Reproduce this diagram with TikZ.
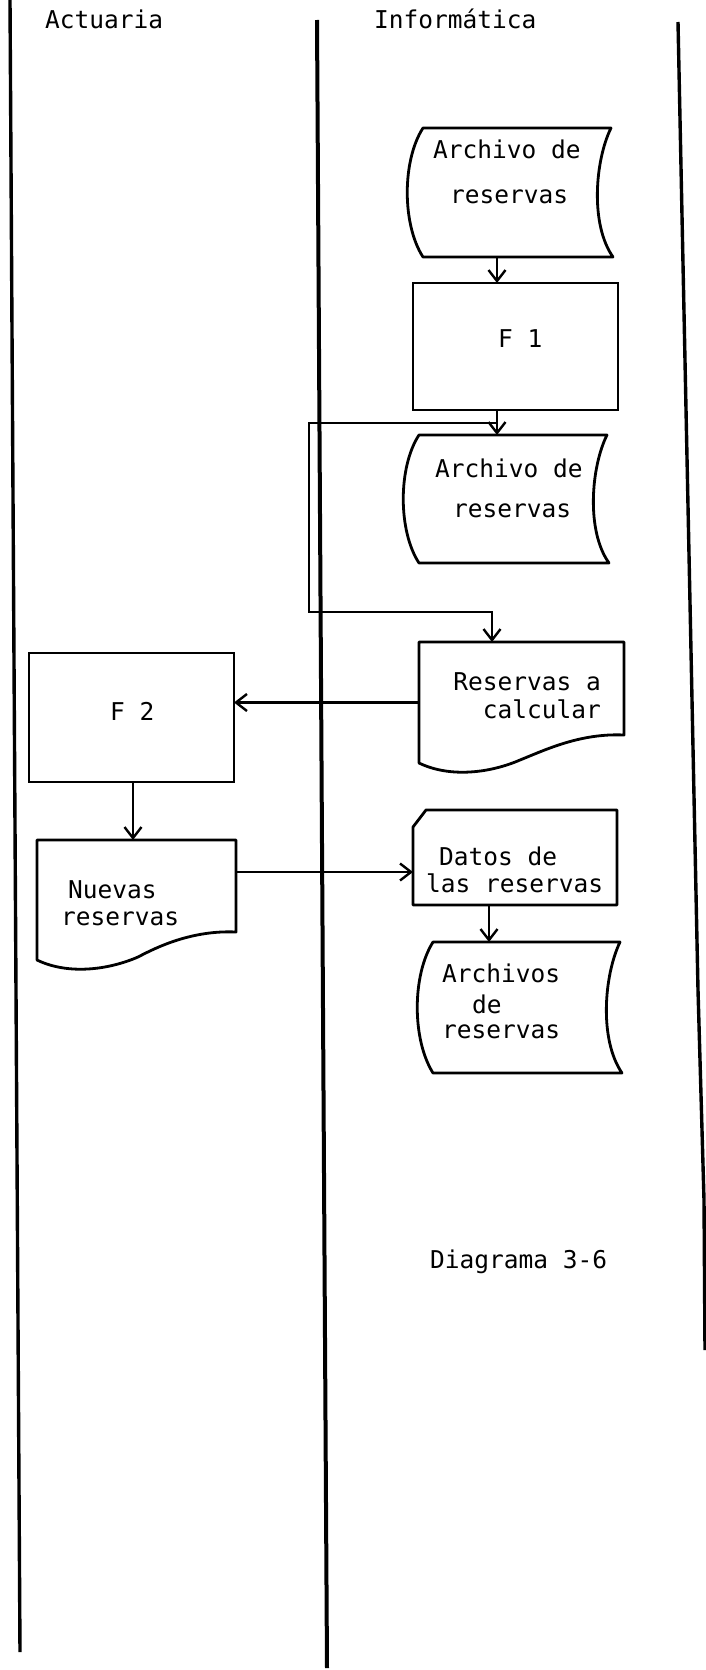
\documentclass[tikz,border=0pt]{standalone}
\usepackage{fontspec}
\newfontfamily\typewr{DejaVu Sans Mono}
\usetikzlibrary{arrows.meta,calc}

% stored-data symbol: convex left side, concave right side
\newcommand\storedoutline[1]{%
  \draw[outline] ($(#1.north west)+(16,0)$) -- ($(#1.north east)+(-2,0)$)
    .. controls ($(#1.east)+(-18,-32)$) and ($(#1.east)+(-23,32)$) .. (#1.south east)
    -- ($(#1.south west)+(16,0)$)
    .. controls ($(#1.west)+(-5,32)$) and ($(#1.west)+(-5,-32)$) .. ($(#1.north west)+(16,0)$) -- cycle;}

% document symbol: wavy lower edge
\newcommand\docoutline[1]{%
  \draw[outline] (#1.south west) -- (#1.north west) -- (#1.north east) -- ($(#1.south east)+(0,-28)$)
    .. controls ($(#1.south east)+(-44,-30)$) and ($(#1.south east)+(-79,-13)$) .. ($(#1.south west)+(101,-3)$)
    .. controls ($(#1.south west)+(71,10)$) and ($(#1.south west)+(31,15)$) .. (#1.south west) -- cycle;}

\begin{document}
\begin{tikzpicture}[x=1pt,y=-1pt,
  lane/.style={line width=3.4pt, line join=round},
  outline/.style={line width=2.8pt, line join=round},
  frame/.style={rectangle, inner sep=0pt, outer sep=0pt},
  procbox/.style={frame, draw, line width=2.8pt},
  flow/.style={line width=2.4pt, -{Straight Barb[length=11pt,width=17pt,line width=2.4pt]}},
  txt/.style={font=\typewr\fontsize{24.5}{30}\selectfont, inner sep=0pt, anchor=base west},
]
\useasboundingbox (0,0) rectangle (706,1670);

% swimlane borders
\draw[lane] (10,0) -- (20,1652);
\draw[lane, line width=4pt] (317,20) -- (327,1668);
\draw[lane] (678,22) -- (698,990) -- (704,1200) -- (705,1350);

% lane headings
\node[txt] (hA) at (45,29) {Actuaria};
\node[txt] (hI) at (374,29) {Informática};

% symbols
\node[frame, minimum width=206pt, minimum height=129pt] (a1) at (510,192.5) {};
\node[procbox, minimum width=205pt, minimum height=127pt] (f1) at (515.5,346.5) {};
\node[frame, minimum width=206pt, minimum height=128pt] (a2) at (506,499) {};
\node[frame, minimum width=205pt, minimum height=121pt] (res) at (521.5,702.5) {};
\node[procbox, minimum width=205pt, minimum height=129pt] (f2) at (131.5,717.5) {};
\node[frame, minimum width=199pt, minimum height=120pt] (nue) at (136.5,900) {};
\node[frame, minimum width=204pt, minimum height=95pt] (dat) at (515,857.5) {};
\node[frame, minimum width=205pt, minimum height=131pt] (arc) at (519.5,1007.5) {};

\storedoutline{a1}
\storedoutline{a2}
\storedoutline{arc}
\docoutline{res}
\docoutline{nue}
\draw[outline] ($(dat.north west)+(0,17)$) -- ($(dat.north west)+(13,0)$) -- (dat.north east)
  -- (dat.south east) -- (dat.south west) -- cycle;

% connectors
\coordinate (xA) at (497,0);
\coordinate (xB) at (492,0);
\coordinate (xC) at (133,0);
\coordinate (xE) at (489,0);
\coordinate (yD) at (0,872);
\coordinate (split) at (497,423);
\coordinate (loopT) at (309,423);
\coordinate (loopB) at (309,612);

\draw[flow] (a1.south -| xA) -- (f1.north -| xA);
\draw[flow] (f1.south -| xA) -- (a2.north -| xA);
\draw[flow] (split) -- (loopT) -- (loopB) -| (res.north -| xB);
\draw[flow] (res.west) -- (res.west -| f2.east);
\draw[flow] (f2.south -| xC) -- (nue.north -| xC);
\draw[flow] (nue.east |- yD) -- (dat.west |- yD);
\draw[flow] (dat.south -| xE) -- (arc.north -| xE);

% labels
\node[txt] (a1l1) at (433,158) {Archivo de};
\node[txt] (a1l2) at (450,203) {reservas};
\node[txt] (f1l) at (498,347) {F 1};
\node[txt] (a2l1) at (435,477) {Archivo de};
\node[txt] (a2l2) at (453,517) {reservas};
\node[txt, anchor=base east] (rl1) at (601,690) {Reservas a};
\node[txt, anchor=base east] (rl2) at (601,718) {calcular};
\node[txt] (f2l) at (110,720) {F 2};
\node[txt] (nl1) at (68,898) {Nuevas};
\node[txt] (nl2) at (61,925) {reservas};
\node[txt] (dl1) at (439,865) {Datos de};
\node[txt] (dl2) at (426,892) {las reservas};
\node[txt] (al1) at (442,982) {Archivos};
\node[txt] (al2) at (472,1013) {de};
\node[txt] (al3) at (442,1038) {reservas};
\node[txt] (cap) at (430,1268) {Diagrama 3-6};
\end{tikzpicture}
\end{document}
